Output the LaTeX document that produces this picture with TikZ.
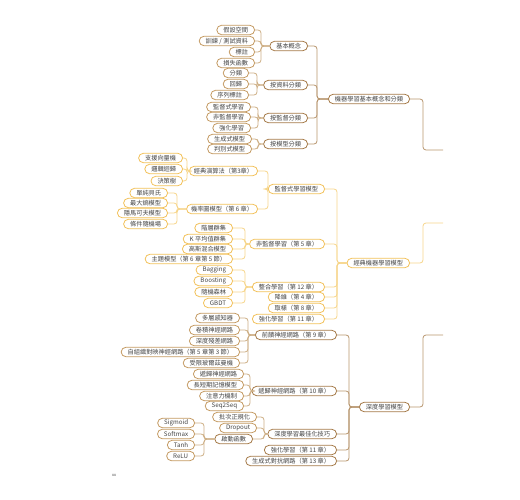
\documentclass[tikz,border=0pt]{standalone}
\usepackage{fontspec}
\newfontfamily\cjk{Noto Sans CJK TC}
\definecolor{txt}{HTML}{444444}
\definecolor{brLeaf}{HTML}{C49A62}
\definecolor{brMid}{HTML}{A57A48}
\definecolor{brLine}{HTML}{CDAE84}
\definecolor{yel}{HTML}{F2C15A}
\definecolor{yelLine}{HTML}{F6D58A}
\begin{document}
\begin{tikzpicture}[x=1pt,y=-1pt,
  box/.style={draw, rounded corners=4.7pt, fill=white, font=\cjk\fontsize{6.2}{7}\selectfont, text=txt, inner xsep=6.5pt, inner ysep=0pt, minimum height=9.4pt, line width=0.8pt, anchor=east},
  bA/.style={box, draw=brLeaf},
  pA/.style={box, draw=brMid},
  bB/.style={box, draw=yel},
  tight/.style={inner xsep=4.5pt},
  cA/.style={draw=brLine, line width=0.8pt, rounded corners=3pt},
  cB/.style={draw=yelLine, line width=0.8pt, rounded corners=3pt},
  cM/.style={draw=brMid!80, line width=0.8pt, rounded corners=3pt}]
\useasboundingbox (0,0) rectangle (520,500);
% ---------------- Group A ----------------
\node[pA] (m1) at (410,99) {機器學習基本概念和分類};
\node[pA] (p1) at (308,46) {基本概念};
\node[pA] (p2) at (308,85) {按資料分類};
\node[pA] (p3) at (308,118) {按監督分類};
\node[pA] (p4) at (308,144) {按模型分類};
\node[bA] (a1) at (255,30) {假設空間};
\node[bA] (a2) at (255,41) {訓練 / 測試資料};
\node[bA] (a3) at (255,52) {標註};
\node[bA] (a4) at (255,63) {損失函數};
\node[bA] (b1) at (249,73) {分類};
\node[bA] (b2) at (249,84) {回歸};
\node[bA] (b3) at (249,95) {序列標註};
\node[bA] (c1) at (251,107) {監督式學習};
\node[bA] (c2) at (251,117) {非監督學習};
\node[bA] (c3) at (251,128) {強化學習};
\node[bA] (d1) at (252,139) {生成式模型};
\node[bA] (d2) at (252,149) {判別式模型};
\coordinate (xm1) at (317,0);
\coordinate (xp1) at (261,0);
\coordinate (xp2) at (257,0);
\coordinate (xp3) at (258,0);
\coordinate (xp4) at (258,0);
\coordinate (e1) at (443,150);
\draw[cM] (m1.east) -- ++(13,0) |- (e1);
\foreach \c in {p1,p2,p3,p4} \draw[cM] (m1.west) -- (m1.west -| xm1) |- (\c.east);
\foreach \c in {a1,a2,a3,a4} \draw[cA] (p1.west) -- (p1.west -| xp1) |- (\c.east);
\foreach \c in {b1,b2,b3} \draw[cA] (p2.west) -- (p2.west -| xp2) |- (\c.east);
\foreach \c in {c1,c2,c3} \draw[cA] (p3.west) -- (p3.west -| xp3) |- (\c.east);
\foreach \c in {d1,d2} \draw[cA] (p4.west) -- (p4.west -| xp4) |- (\c.east);
% ---------------- Group B ----------------
\node[bB] (m2) at (410,263) {經典機器學習模型};
\node[bB] (q1) at (325,189) {監督式學習模型};
\node[bB] (q2) at (325,244) {非監督學習（第 5 章）};
\node[bB] (q3) at (325,287) {整合學習（第 12 章）};
\node[bB] (q4) at (325,297) {降維（第 4 章）};
\node[bB] (q5) at (325,308) {取樣（第 8 章）};
\node[bB] (q6) at (325,319) {強化學習（第 11 章）};
\node[bB,tight] (r1) at (258,171) {經典演算法（第3章）};
\node[bB,tight] (r2) at (258,209) {機率圖模型（第 6 章）};
\node[bB] (s11) at (183,158) {支援向量機};
\node[bB] (s12) at (183,169) {邏輯迴歸};
\node[bB] (s13) at (183,181) {決策樹};
\node[bB] (s21) at (168,193) {單純貝氏};
\node[bB] (s22) at (168,203) {最大熵模型};
\node[bB] (s23) at (168,213) {隱馬可夫模型};
\node[bB] (s24) at (168,224) {條件隨機場};
\node[bB] (t1) at (233,228) {階層群集};
\node[bB] (t2) at (233,239) {K 平均值群集};
\node[bB] (t3) at (233,249) {高斯混合模型};
\node[bB] (t4) at (233,259) {主題模型（第 6 章第 5 節）};
\node[bB] (u1) at (233,270) {Bagging};
\node[bB] (u2) at (233,281) {Boosting};
\node[bB] (u3) at (233,292) {隨機森林};
\node[bB] (u4) at (233,303) {GBDT};
\coordinate (xm2) at (337,0);
\coordinate (xq1) at (268,0);
\coordinate (xr1) at (187,0);
\coordinate (xr2) at (177,0);
\coordinate (xq2) at (245,0);
\coordinate (xq3) at (245,0);
\coordinate (e2) at (443,223);
\draw[cB] (m2.east) -- ++(13,0) |- (e2);
\foreach \c in {q1,q2,q3,q4,q5,q6} \draw[cB] (m2.west) -- (m2.west -| xm2) |- (\c.east);
\foreach \c in {r1,r2} \draw[cB] (q1.west) -- (q1.west -| xq1) |- (\c.east);
\foreach \c in {s11,s12,s13} \draw[cB] (r1.west) -- (r1.west -| xr1) |- (\c.east);
\foreach \c in {s21,s22,s23,s24} \draw[cB] (r2.west) -- (r2.west -| xr2) |- (\c.east);
\foreach \c in {t1,t2,t3,t4} \draw[cB] (q2.west) -- (q2.west -| xq2) |- (\c.east);
\foreach \c in {u1,u2,u3,u4} \draw[cB] (q3.west) -- (q3.west -| xq3) |- (\c.east);
% ---------------- Group C ----------------
\node[pA] (m3) at (410,407) {深度學習模型};
\node[pA] (v1) at (337,335) {前饋神經網路（第 9 章）};
\node[pA] (v2) at (337,391) {遞歸神經網路（第 10 章）};
\node[pA] (v3) at (337,434) {深度學習最佳化技巧};
\node[pA] (v4) at (337,450) {強化學習（第 11 章）};
\node[pA] (v5) at (337,461) {生成式對抗網路（第 13 章）};
\node[bA] (w1) at (240,318) {多層感知器};
\node[bA] (w2) at (240,330) {卷積神經網路};
\node[bA] (w3) at (240,341) {深度殘差網路};
\node[bA] (w4) at (240,352) {自組織對映神經網路（第 5 章第 3 節）};
\node[bA] (w5) at (240,363) {受限玻爾茲曼機};
\node[bA] (y1) at (244,374) {遞歸神經網路};
\node[bA] (y2) at (244,385) {長短期記憶模型};
\node[bA] (y3) at (244,396) {注意力機制};
\node[bA] (y4) at (244,406) {Seq2Seq};
\node[bA] (z1) at (257,417) {批次正規化};
\node[bA] (z2) at (257,428) {Dropout};
\node[pA] (z3) at (253,439) {啟動函數};
\node[bA] (f1) at (195,423) {Sigmoid};
\node[bA] (f2) at (195,434) {Softmax};
\node[bA] (f3) at (195,445) {Tanh};
\node[bA] (f4) at (195,456) {ReLU};
\coordinate (xm3) at (349,0);
\coordinate (xv1) at (248,0);
\coordinate (xv2) at (250,0);
\coordinate (xv3) at (264,0);
\coordinate (xz3) at (204,0);
\coordinate (e3) at (443,335);
\draw[cM] (m3.east) -- ++(13,0) |- (e3);
\foreach \c in {v1,v2,v3,v4,v5} \draw[cM] (m3.west) -- (m3.west -| xm3) |- (\c.east);
\foreach \c in {w1,w2,w3,w4,w5} \draw[cA] (v1.west) -- (v1.west -| xv1) |- (\c.east);
\foreach \c in {y1,y2,y3,y4} \draw[cA] (v2.west) -- (v2.west -| xv2) |- (\c.east);
\foreach \c in {z1,z2,z3} \draw[cA] (v3.west) -- (v3.west -| xv3) |- (\c.east);
\foreach \c in {f1,f2,f3,f4} \draw[cA] (z3.west) -- (z3.west -| xz3) |- (\c.east);
% small mark
\node[font=\cjk\fontsize{4}{4}\selectfont, text=txt, inner sep=0pt] (xx) at (114,475) {xx};
\end{tikzpicture}
\end{document}
